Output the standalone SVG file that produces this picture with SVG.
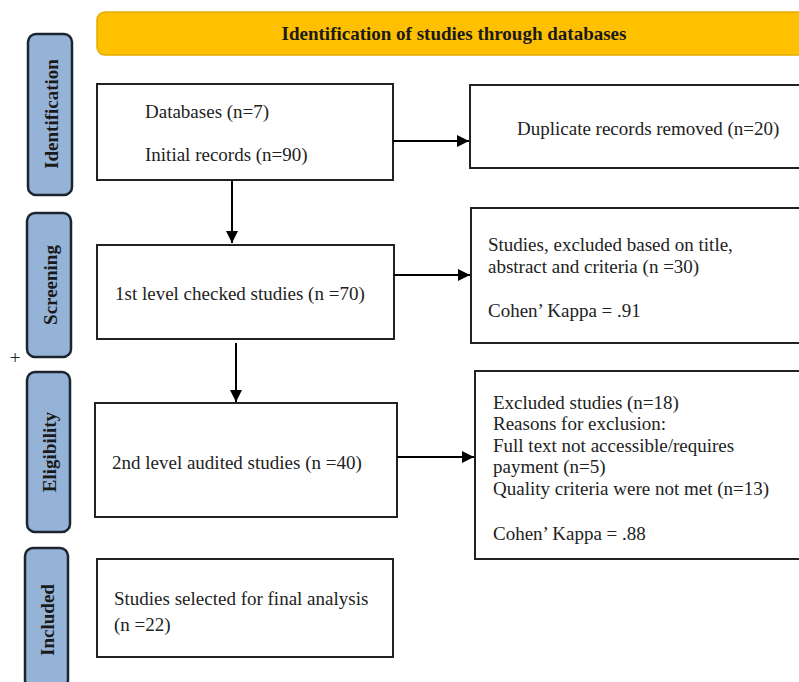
<svg xmlns="http://www.w3.org/2000/svg" width="799" height="682" viewBox="0 0 799 682">
<defs>
<marker id="ah" viewBox="0 0 10 10" refX="10" refY="5" markerWidth="6" markerHeight="6" markerUnits="strokeWidth" orient="auto">
<path d="M0,0 L10,5 L0,10 z" fill="#000"/>
</marker>
<style>
.box{fill:#fff;stroke:#222;stroke-width:2}
.side{fill:#95B3D7;stroke:#1c2430;stroke-width:2.5}
.t{font-family:"Liberation Serif","Times New Roman",serif;font-size:19px;fill:#222}
.sl{font-family:"Liberation Serif","Times New Roman",serif;font-size:19px;font-weight:bold;fill:#1a1a1a}
.ln{stroke:#000;stroke-width:2;fill:none}
</style>
</defs>
<rect width="799" height="682" fill="#fff"/>
<g id="banner">
<rect x="97" y="12" width="720" height="43" rx="8" fill="#FFC000" stroke="#E5AC00" stroke-width="1.5"/>
<text x="454" y="40" text-anchor="middle" class="sl">Identification of studies through databases</text>
</g>
<g id="side-identification">
<rect x="28" y="34" width="44" height="161" rx="8" class="side"/>
<text transform="translate(58,114) rotate(-90)" text-anchor="middle" class="sl">Identification</text>
</g>
<g id="side-screening">
<rect x="27" y="213" width="44" height="144" rx="8" class="side"/>
<text transform="translate(57,285) rotate(-90)" text-anchor="middle" class="sl">Screening</text>
</g>
<text x="15" y="364" text-anchor="middle" class="t" font-size="17">+</text>
<g id="side-eligibility">
<rect x="27" y="372" width="43" height="160" rx="8" class="side"/>
<text transform="translate(56,452) rotate(-90)" text-anchor="middle" class="sl">Eligibility</text>
</g>
<g id="side-included">
<rect x="25" y="548" width="43" height="140" rx="8" class="side"/>
<text transform="translate(54,620) rotate(-90)" text-anchor="middle" class="sl">Included</text>
</g>
<g id="box-databases">
<rect x="97" y="84" width="296" height="96" class="box"/>
<text x="145" y="118" class="t">Databases (n=7)</text>
<text x="145" y="161" class="t">Initial records (n=90)</text>
</g>
<g id="box-duplicates">
<rect x="470" y="85" width="340" height="83" class="box"/>
<text x="517" y="135" class="t">Duplicate records removed (n=20)</text>
</g>
<g id="box-screened">
<rect x="97" y="245" width="297" height="94" class="box"/>
<text x="115" y="300" class="t">1st level checked studies (n =70)</text>
</g>
<g id="box-excluded1">
<rect x="471" y="208" width="340" height="135" class="box"/>
<text x="488" y="251" class="t">Studies, excluded based on title,</text>
<text x="488" y="273" class="t">abstract and criteria (n =30)</text>
<text x="488" y="317" class="t">Cohen’ Kappa = .91</text>
</g>
<g id="box-eligible">
<rect x="95" y="403" width="302" height="114" class="box"/>
<text x="112" y="469" class="t">2nd level audited studies (n =40)</text>
</g>
<g id="box-excluded2">
<rect x="475" y="371" width="340" height="188" class="box"/>
<text x="493" y="409" class="t">Excluded studies (n=18)</text>
<text x="493" y="430" class="t">Reasons for exclusion:</text>
<text x="493" y="452" class="t">Full text not accessible/requires</text>
<text x="493" y="473" class="t">payment (n=5)</text>
<text x="493" y="495" class="t">Quality criteria were not met (n=13)</text>
<text x="493" y="540" class="t">Cohen’ Kappa = .88</text>
</g>
<g id="box-included">
<rect x="97" y="559" width="296" height="98" class="box"/>
<text x="114" y="605" class="t">Studies selected for final analysis</text>
<text x="114" y="631" class="t">(n =22)</text>
</g>
<g id="connectors">
<line x1="232" y1="180" x2="232" y2="243" class="ln" marker-end="url(#ah)"/>
<line x1="236" y1="343" x2="236" y2="402" class="ln" marker-end="url(#ah)"/>
<line x1="393" y1="141" x2="469" y2="141" class="ln" marker-end="url(#ah)"/>
<line x1="394" y1="275" x2="470" y2="275" class="ln" marker-end="url(#ah)"/>
<line x1="397" y1="457" x2="474" y2="457" class="ln" marker-end="url(#ah)"/>
</g>
</svg>
